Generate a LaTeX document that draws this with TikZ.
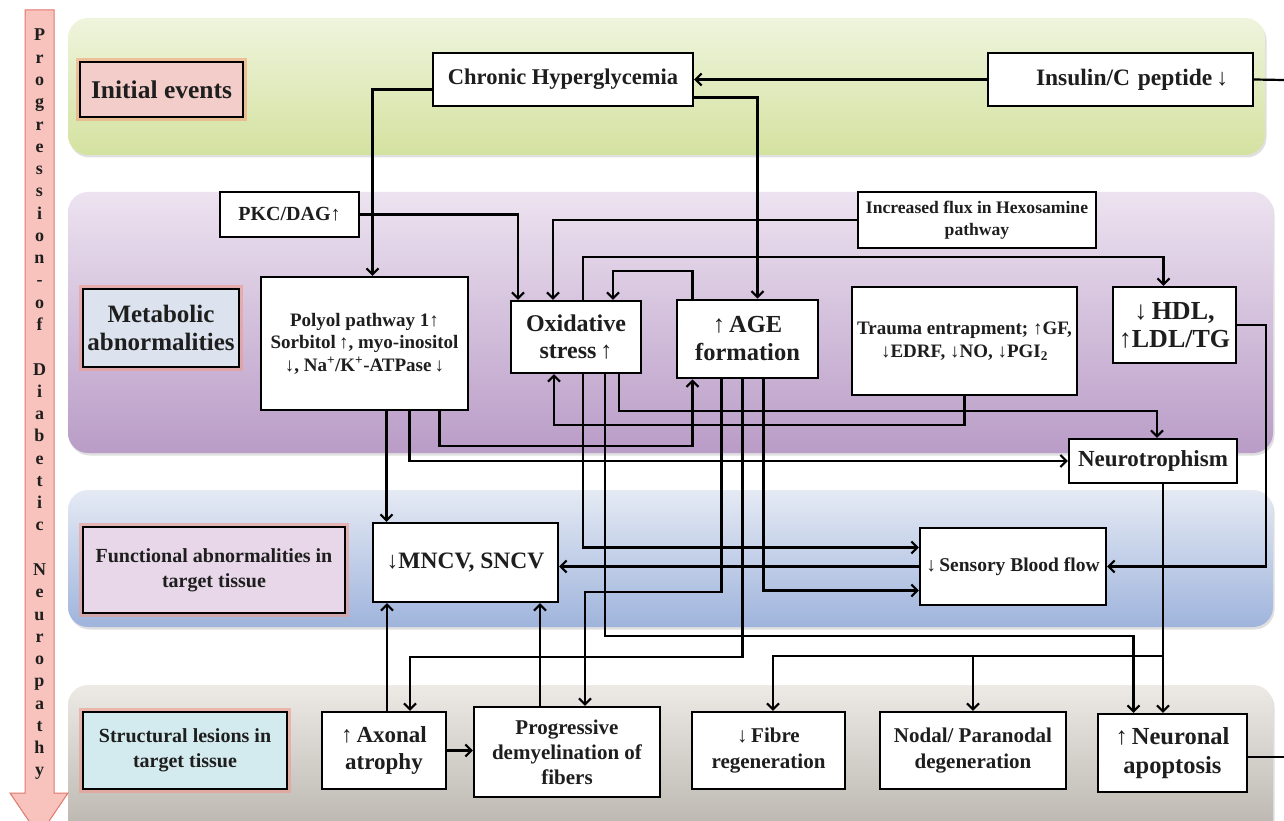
\documentclass[tikz,border=0pt]{standalone}
\usepackage{fontspec}
\setmainfont{Liberation Serif}
\usetikzlibrary{arrows.meta,shadows}

\definecolor{greentop}{HTML}{EFF4DD}
\definecolor{greenbot}{HTML}{D4E2A0}
\definecolor{purptop}{HTML}{EDE3F0}
\definecolor{purpbot}{HTML}{B99CC7}
\definecolor{bluetop}{HTML}{E5EAF4}
\definecolor{bluebot}{HTML}{9FB4DC}
\definecolor{greytop}{HTML}{EDEAE6}
\definecolor{greybot}{HTML}{B4AFA8}
\definecolor{glow}{HTML}{EE9A8C}
\definecolor{glowamber}{HTML}{F2A27A}
\definecolor{pinkfill}{HTML}{F8C3BC}
\definecolor{pinkline}{HTML}{DE776D}
\definecolor{catpink}{HTML}{F3CDC9}
\definecolor{catblue}{HTML}{DCE3EE}
\definecolor{catlilac}{HTML}{E7D7E9}
\definecolor{catcyan}{HTML}{D3EBEF}
\definecolor{ink}{HTML}{1E1E1E}

\newcommand\fsz[2]{\fontsize{#1}{#2}\selectfont\bfseries}
\newcommand\upar{{\mdseries ↑}}
\newcommand\dnar{{\mdseries ↓}}

\tikzset{
  nbox/.style={draw=black, line width=2.2pt, fill=white, inner sep=0pt, align=center, text=ink},
  catbox/.style={nbox, line width=2.4pt, preaction={draw=#1, line width=8pt, opacity=.6}},
  catbox/.default=glow,
  link/.style={line width=2.2pt, -{Straight Barb[length=6pt,width=12pt]}},
  wire/.style={line width=2.2pt},
  band/.style={rounded corners=20pt, drop shadow={shadow xshift=1.5pt, shadow yshift=-2.5pt, opacity=.25}},
}

\begin{document}
\begin{tikzpicture}[x=1pt, y=-1pt]
  \useasboundingbox (0,0) rectangle (1284,821);

  % stage bands
  \path[band, top color=greentop, bottom color=greenbot] (68,18) rectangle (1265,155);
  \path[band, top color=purptop, bottom color=purpbot] (68,192) rectangle (1273,453);
  \path[band, top color=bluetop, bottom color=bluebot] (68,490) rectangle (1273,627);
  \path[band, top color=greytop, bottom color=greybot] (68,685) rectangle (1273,850);

  % progression arrow on the left
  \draw[pinkline, fill=pinkfill, line width=1pt] (25,10) -- (54,10) -- (54,793) -- (68,793)
    -- (39,836) -- (10,793) -- (25,793) -- cycle;
  \foreach \ch/\k in {P/0,r/1,o/2,g/3,r/4,e/5,s/6,s/7,i/8,o/9,n/10,-/11,o/12,f/13,
      D/15,i/16,a/17,b/18,e/19,t/20,i/21,c/22,
      N/24,e/25,u/26,r/27,o/28,p/29,a/30,t/31,h/32,y/33}
    \node[font=\fsz{18}{18}, text=ink, inner sep=0pt, anchor=base] (ltr\k) at (39.5,{41+22.27*\k}) {\ch};

  % stage labels
  \node[catbox=glowamber, fill=catpink, minimum width=163pt, minimum height=55pt, font=\fsz{25.5}{28}] (initev) at (161.5,89.5) {Initial events};
  \node[catbox, fill=catblue, minimum width=156pt, minimum height=78pt, font=\fsz{25}{28}] (metab) at (161,328) {Metabolic\\abnormalities};
  \node[catbox, fill=catlilac, minimum width=262pt, minimum height=86pt, font=\fsz{20}{25}] (func) at (214,570) {Functional abnormalities in\\target tissue};
  \node[catbox, fill=catcyan, minimum width=204pt, minimum height=77pt, font=\fsz{20}{25}] (struct) at (185,750.5) {Structural lesions in\\target tissue};

  % initial events
  \node[nbox, minimum width=260pt, minimum height=53pt, font=\fsz{22.5}{27}] (chg) at (563,79.5) {Chronic Hyperglycemia};
  \node[nbox, minimum width=265pt, minimum height=53pt, text width=215pt, align=right, font=\fsz{23.5}{27}] (ins) at (1120.5,79.5) {Insulin/C peptide\,\dnar};

  % metabolic abnormalities
  \node[nbox, minimum width=139pt, minimum height=45pt, font=\fsz{20}{22}] (pkc) at (289.5,214.5) {PKC/DAG\upar};
  \node[nbox, minimum width=238pt, minimum height=56pt, font=\fsz{17.6}{22}] (hex) at (977,220) {Increased flux in Hexosamine\\pathway};
  \node[nbox, minimum width=207pt, minimum height=133pt, font=\fsz{19}{22.5}] (poly) at (364.5,343.5)
    {Polyol pathway 1\upar\\Sorbitol\,\upar, myo-inositol\\\dnar, Na\textsuperscript{+}/K\textsuperscript{+}-ATPase\,\dnar};
  \node[nbox, minimum width=130pt, minimum height=72pt, font=\fsz{24}{27}] (ox) at (576,337) {Oxidative\\stress\,\upar};
  \node[nbox, line width=2.6pt, minimum width=141pt, minimum height=78pt, font=\fsz{24.5}{28}] (age) at (747.5,339) {\upar\,AGE\\formation};
  \node[nbox, minimum width=225pt, minimum height=108pt, font=\fsz{19}{23}] (trauma) at (964.5,341)
    {Trauma entrapment; \upar GF,\\\dnar EDRF, \dnar NO, \dnar PGI\textsubscript{2}};
  \node[nbox, minimum width=123pt, minimum height=76pt, font=\fsz{26}{28}] (hdl) at (1174.5,325) {\dnar\,HDL,\\\upar LDL/TG};
  \node[nbox, minimum width=168pt, minimum height=44pt, font=\fsz{23}{26}] (neuro) at (1153,461) {Neurotrophism};

  % functional abnormalities
  \node[nbox, minimum width=185pt, minimum height=79pt, font=\fsz{23.5}{27}] (mncv) at (465.5,562.5) {\dnar MNCV, SNCV};
  \node[nbox, minimum width=186pt, minimum height=77pt, font=\fsz{19.5}{23}] (sbf) at (1013,566.5) {\dnar\,Sensory Blood flow};

  % structural lesions
  \node[nbox, minimum width=124pt, minimum height=77pt, font=\fsz{23}{27}] (axon) at (384,750.5) {\upar\,Axonal\\atrophy};
  \node[nbox, minimum width=186pt, minimum height=90pt, font=\fsz{21}{25}] (demy) at (567,752) {Progressive\\demyelination of\\fibers};
  \node[nbox, minimum width=153pt, minimum height=77pt, font=\fsz{21}{26}] (fibre) at (768.5,750.5) {\dnar\,Fibre\\regeneration};
  \node[nbox, minimum width=186pt, minimum height=77pt, font=\fsz{21}{26}] (nodal) at (973,750.5) {Nodal/ Paranodal\\degeneration};
  \node[nbox, minimum width=149pt, minimum height=78pt, font=\fsz{24.5}{29}] (apop) at (1172.5,753) {\upar\,Neuronal\\apoptosis};

  \coordinate (split) at (1163,656);
  \coordinate (edgeA) at (1284,80);
  \coordinate (edgeB) at (1284,757);

  % connectors
  \draw[link] (ins.west) -- (chg.east);
  \draw[wire] (ins.east) -- (edgeA);
  \draw[link] ([yshift=-10pt]chg.west) -| ([xshift=8pt]poly.north);
  \draw[link] ([yshift=-18pt]chg.east) -| ([xshift=10pt]age.north);
  \draw[link] (pkc.east) -| ([xshift=-58pt]ox.north);
  \draw[link] (hex.west) -| ([xshift=-23pt]ox.north);
  \draw[link] ([xshift=7pt]ox.north) -- ++(0,-43) -| ([xshift=-11pt]hdl.north);
  \draw[link] ([xshift=-55pt]age.north) -- ++(0,-28) -| ([xshift=37pt]ox.north);
  \draw[link] (trauma.south) -- ++(0,29) -| ([xshift=-22pt]ox.south);
  \draw[link] ([xshift=75pt]poly.south) -- ++(0,35) -| ([xshift=-55pt]age.south);
  \draw[link] ([xshift=45pt]poly.south) |- (neuro.west);
  \draw[link] ([xshift=22pt]poly.south) -- ([xshift=22pt]poly.south |- mncv.north);
  \draw[link] ([xshift=43pt]ox.south) -- ++(0,37) -| ([xshift=4pt]neuro.north);
  \draw[link] ([xshift=7pt]ox.south) |- ([yshift=19pt]sbf.west);
  \draw[link] ([xshift=29pt]ox.south) -- ++(0,262) -| ([xshift=-39pt]apop.north);
  \draw[link] ([xshift=-26pt]age.south) -- ++(0,213) -| ([xshift=18pt]demy.north);
  \draw[link] ([xshift=-5pt]age.south) -- ++(0,278) -| ([xshift=26pt]axon.north);
  \draw[link] ([xshift=16pt]age.south) |- ([yshift=-24pt]sbf.west);
  \draw[link] (sbf.west) -- (sbf.west -| mncv.east);
  \draw[link] (hdl.east) -- ++(29,0) |- (sbf.east);
  \draw[link] ([xshift=10pt]neuro.south) -- ([xshift=10pt]neuro.south |- apop.north);
  \draw[link] (split) -| ([xshift=4.5pt]fibre.north);
  \draw[link] (split -| nodal.north) -- (nodal.north);
  \draw[link] (axon.east) -- (axon.east -| demy.west);
  \draw[link] ([xshift=3pt]axon.north) -- ([xshift=3pt]axon.north |- mncv.south);
  \draw[link] ([xshift=-27pt]demy.north) -- ([xshift=-27pt]demy.north |- mncv.south);
  \draw[wire] (apop.east |- edgeB) -- (edgeB);
\end{tikzpicture}
\end{document}
